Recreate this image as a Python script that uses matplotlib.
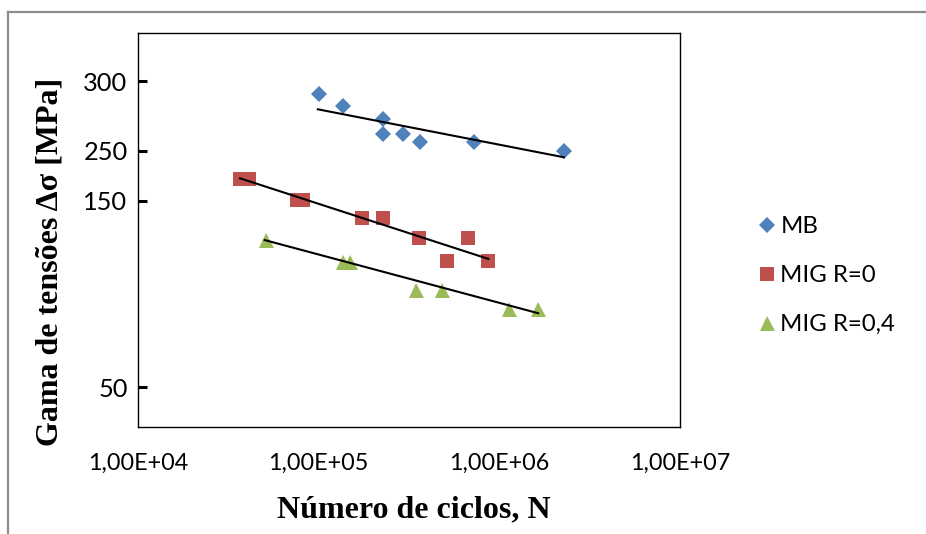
import numpy as np
import matplotlib
matplotlib.use("Agg")
import matplotlib.pyplot as plt
from matplotlib.lines import Line2D

# ---------------- data ----------------
mb_N = [1.00e5, 1.37e5, 2.28e5, 2.26e5, 2.94e5, 3.64e5, 7.24e5, 2.28e6]
mb_S = [291, 282, 272.5, 262, 262, 256, 256, 250]
mb_trend_N = [0.99e5, 2.28e6]
mb_trend_S = [279.7, 236.8]

r0_N = [3.65e4, 4.10e4, 7.55e4, 8.15e4, 1.73e5, 2.26e5, 3.61e5, 6.68e5, 5.15e5, 8.69e5]
r0_S = [193, 193, 151, 151, 140.6, 140.6, 130, 130, 117.7, 117.7]
r0_trend_N = [3.67e4, 8.69e5]
r0_trend_S = [194.8, 118.8]

r4_N = [5.09e4, 1.36e5, 1.49e5, 3.44e5, 4.83e5, 1.13e6, 1.64e6]
r4_S = [129, 117, 117, 102.4, 102.1, 91.8, 91.8]
r4_trend_N = [5.02e4, 1.64e6]
r4_trend_S = [128.9, 89.7]

series_labels = ["MB", "MIG R=0", "MIG R=0,4"]
y_tick_values = [50, 150, 250, 300]
y_tick_labels = ["50", "150", "250", "300"]
x_tick_values = [1e4, 1e5, 1e6, 1e7]
x_tick_labels = ["1,00E+04", "1,00E+05", "1,00E+06", "1,00E+07"]

# ---------------- y scale (non-uniform, as drawn in the original) ----------------
scale_vals = [28.9, 50, 150, 250, 300, 334.2]
scale_pos = [0.0, 0.1002, 0.5745, 0.7016, 0.8787, 1.0]


def fwd(v):
    return np.interp(v, scale_vals, scale_pos)


def inv(p):
    return np.interp(p, scale_pos, scale_vals)


# ---------------- figure ----------------
W, H = 926, 534
fig = plt.figure(figsize=(W / 100, H / 100), dpi=100)
ax = fig.add_axes([138 / W, 1 - 426.7 / H, (680 - 138) / W, (426.7 - 33.3) / H])

blue = "#4F81BD"
red = "#C0504D"
green = "#9BBB59"

ax.plot(mb_N, mb_S, linestyle="none", marker="D", markersize=8.4, color=blue,
        markeredgewidth=0, label=series_labels[0], zorder=3)
ax.plot(r0_N, r0_S, linestyle="none", marker="s", markersize=10.6, color=red,
        markeredgewidth=0, label=series_labels[1], zorder=3)
ax.plot(r4_N, r4_S, linestyle="none", marker="^", markersize=10.8, color=green,
        markeredgewidth=0, label=series_labels[2], zorder=3)

for tn, ts in [(mb_trend_N, mb_trend_S), (r0_trend_N, r0_trend_S), (r4_trend_N, r4_trend_S)]:
    ax.plot(tn, ts, color="black", linewidth=1.5, zorder=4)

ax.set_xscale("log")
ax.set_yscale("function", functions=(fwd, inv))
ax.set_xlim(1e4, 1e7)
ax.set_ylim(scale_vals[0], scale_vals[-1])

ax.set_xticks(x_tick_values)
ax.set_xticklabels(x_tick_labels)
ax.xaxis.set_minor_locator(matplotlib.ticker.NullLocator())
ax.set_yticks(y_tick_values)
ax.set_yticklabels(y_tick_labels)
ax.yaxis.set_minor_locator(matplotlib.ticker.NullLocator())

tick_font = "Lato"
ax.tick_params(axis="x", length=0, pad=18.5, labelsize=16.8, labelfontfamily=tick_font)
ax.tick_params(axis="y", direction="in", length=6.5, width=2.2, pad=7.5,
               labelsize=18.3, labelfontfamily=tick_font)

for sp in ax.spines.values():
    sp.set_linewidth(1.0)
    sp.set_color("black")

# axis titles
fig.text(414 / W, 1 - 517 / H, "Número de ciclos, N", ha="center", va="baseline",
         fontsize=23, fontweight="bold", family="Liberation Serif")
fig.text(50 / W, 1 - 262 / H, "Gama de tensões Δσ [MPa]", ha="center", va="center",
         rotation=90, fontsize=23, fontweight="bold", family="Liberation Serif")

# legend
leg = fig.legend(loc="center left", bbox_to_anchor=(760 / W, 1 - 275.7 / H),
                 frameon=False, handlelength=0.55, handletextpad=0.3,
                 labelspacing=1.17, borderpad=0, borderaxespad=0,
                 prop={"family": tick_font, "size": 17.3})

# outer chart border (top and left visible)
fig.add_artist(Line2D([8 / W, 1.0], [1 - 12 / H, 1 - 12 / H], color="#8C8C8C",
                      linewidth=1.6, transform=fig.transFigure))
fig.add_artist(Line2D([8 / W, 8 / W], [1 - 12 / H, 0.0], color="#8C8C8C",
                      linewidth=1.6, transform=fig.transFigure))

fig.savefig("out.png", dpi=100)
